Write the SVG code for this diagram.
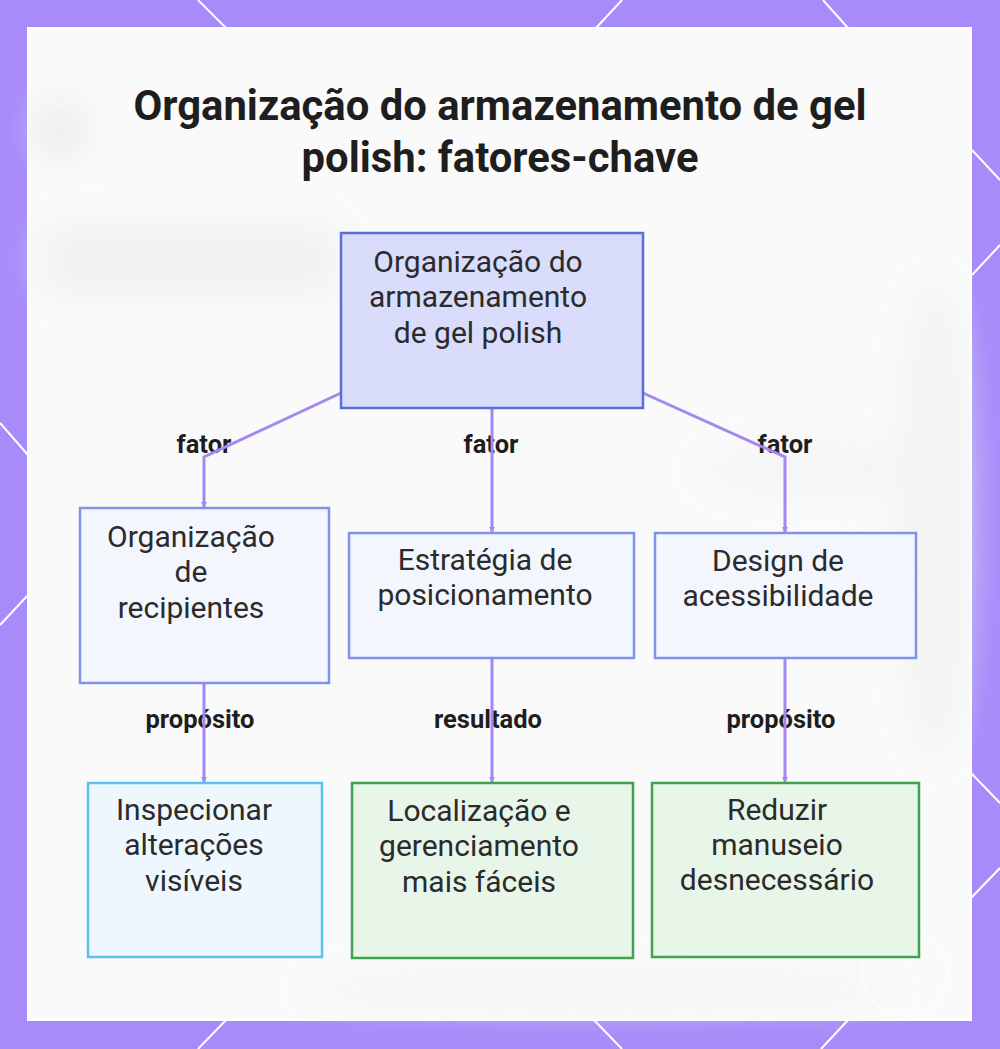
<svg xmlns="http://www.w3.org/2000/svg" width="1000" height="1049" viewBox="0 0 1000 1049">
  <defs>
    <style>
      .title { font-family: Roboto, "Liberation Sans", sans-serif; font-weight: 700; font-size: 41.8px; fill: #1e1e1e; text-anchor: middle; }
      .ntext { font-family: Roboto, "Liberation Sans", sans-serif; font-size: 30px; fill: #2b2b2b; text-anchor: middle; }
      .lbl { font-family: Roboto, "Liberation Sans", sans-serif; font-weight: 700; font-size: 25.5px; fill: #1e1e1e; text-anchor: middle; }
      .edge { fill: none; stroke: #a587f0; stroke-width: 3; marker-end: url(#arr); }
      .hex { stroke: #ffffff; stroke-width: 2; fill: none; }
      .root { fill: #d9dcfb; stroke: #5b6fd6; stroke-width: 2.5; }
      .mid { fill: #f4f6fe; stroke: #7f93ea; stroke-width: 2.5; }
      .blue { fill: #eef7fd; stroke: #5cc2ec; stroke-width: 2.5; }
      .green { fill: #e8f5e9; stroke: #3ea34c; stroke-width: 2.5; }
    </style>
    <marker id="arr" viewBox="0 0 8 8" refX="7" refY="4" markerWidth="2" markerHeight="2" orient="auto">
      <path d="M0,0 L8,4 L0,8 z" fill="#a587f0"/>
    </marker>
    <filter id="blur" x="-20%" y="-20%" width="140%" height="140%">
      <feGaussianBlur stdDeviation="18"/>
    </filter>
  </defs>

  <!-- frame -->
  <rect x="0" y="0" width="1000" height="1049" fill="#a78bfa"/>
  <g class="hex">
    <line x1="198" y1="0" x2="226" y2="28"/>
    <line x1="622" y1="0" x2="596" y2="28"/>
    <line x1="823" y1="0" x2="848" y2="28"/>
    <line x1="226" y1="1020" x2="198" y2="1049"/>
    <line x1="594" y1="1020" x2="622" y2="1049"/>
    <line x1="848" y1="1020" x2="821" y2="1049"/>
    <line x1="0" y1="423" x2="28" y2="455"/>
    <line x1="0" y1="625" x2="28" y2="595"/>
    <line x1="972" y1="150" x2="1000" y2="180"/>
    <line x1="972" y1="275" x2="1000" y2="245"/>
    <line x1="971" y1="773" x2="1000" y2="803"/>
    <line x1="971" y1="898" x2="1000" y2="868"/>
  </g>

  <!-- panel -->
  <rect x="28" y="28" width="943" height="992" fill="#fafafa" stroke="#ffffff" stroke-width="2"/>
  <g filter="url(#blur)" opacity="0.7">
    <ellipse cx="60" cy="130" rx="25" ry="30" fill="#e6e6e6"/>
    <rect x="40" y="225" width="300" height="70" rx="20" fill="#eeeeee"/>
    <ellipse cx="935" cy="520" rx="35" ry="240" fill="#f0f0f0"/>
    <ellipse cx="600" cy="990" rx="300" ry="15" fill="#f0f0f0"/>
    <ellipse cx="820" cy="470" rx="120" ry="22" fill="#f2f2f2"/>
  </g>
  <circle cx="905" cy="973" r="43" fill="none" stroke="#ffffff" stroke-width="1.2" opacity="0.9"/>

  <!-- title -->
  <text class="title" x="500" y="120">Organização do armazenamento de gel</text>
  <text class="title" x="500" y="172">polish: fatores-chave</text>

  <!-- labels -->
  <g id="labels">
    <text class="lbl" x="204" y="453">fator</text>
    <text class="lbl" x="491" y="453">fator</text>
    <text class="lbl" x="785" y="453">fator</text>
    <text class="lbl" x="200" y="728">propósito</text>
    <text class="lbl" x="488" y="728">resultado</text>
    <text class="lbl" x="781" y="728">propósito</text>
  </g>

  <!-- connectors -->
  <g id="connectors">
    <path class="edge" d="M341,393 L204,457 L204,507"/>
    <path class="edge" d="M492,408 L492,532"/>
    <path class="edge" d="M643,393 L785,457 L785,532"/>
    <path class="edge" d="M204,683 L204,782"/>
    <path class="edge" d="M492,658 L492,782"/>
    <path class="edge" d="M785,658 L785,782"/>
  </g>

  <!-- nodes -->
  <g id="n-root">
    <rect class="root" x="341" y="233" width="302" height="175"/>
    <text class="ntext" x="478" y="272">Organização do</text>
    <text class="ntext" x="478" y="307">armazenamento</text>
    <text class="ntext" x="478" y="343">de gel polish</text>
  </g>
  <g id="n-recipientes">
    <rect class="mid" x="80" y="508" width="249" height="175"/>
    <text class="ntext" x="191" y="547">Organização</text>
    <text class="ntext" x="191" y="582">de</text>
    <text class="ntext" x="191" y="618">recipientes</text>
  </g>
  <g id="n-posicionamento">
    <rect class="mid" x="349" y="533" width="285" height="125"/>
    <text class="ntext" x="485" y="570">Estratégia de</text>
    <text class="ntext" x="485" y="605">posicionamento</text>
  </g>
  <g id="n-acessibilidade">
    <rect class="mid" x="655" y="533" width="261" height="125"/>
    <text class="ntext" x="778" y="571">Design de</text>
    <text class="ntext" x="778" y="606">acessibilidade</text>
  </g>
  <g id="n-inspecionar">
    <rect class="blue" x="88" y="783" width="234" height="174"/>
    <text class="ntext" x="194" y="820">Inspecionar</text>
    <text class="ntext" x="194" y="855">alterações</text>
    <text class="ntext" x="194" y="891">visíveis</text>
  </g>
  <g id="n-localizacao">
    <rect class="green" x="352" y="783" width="281" height="175"/>
    <text class="ntext" x="479" y="821">Localização e</text>
    <text class="ntext" x="479" y="856">gerenciamento</text>
    <text class="ntext" x="479" y="892">mais fáceis</text>
  </g>
  <g id="n-reduzir">
    <rect class="green" x="652" y="783" width="267" height="174"/>
    <text class="ntext" x="777" y="820">Reduzir</text>
    <text class="ntext" x="777" y="855">manuseio</text>
    <text class="ntext" x="777" y="890">desnecessário</text>
  </g>
</svg>
